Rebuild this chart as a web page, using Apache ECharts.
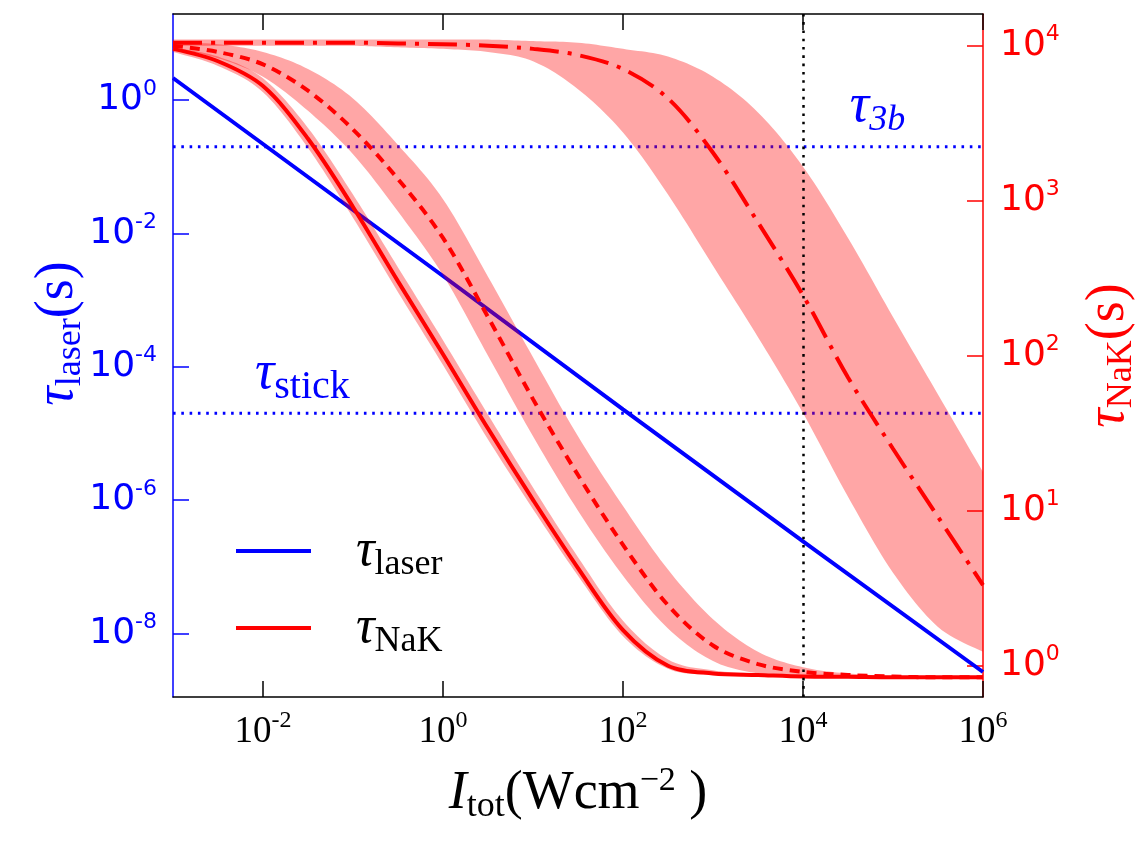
<!DOCTYPE html>
<html>
<head>
<meta charset="utf-8">
<script src="https://cdn.jsdelivr.net/npm/echarts@6.0.0/dist/echarts.min.js"></script>
<style>
html, body { margin: 0; padding: 0; background: #fff; }
#chart { width: 1145px; height: 841px; }
</style>
</head>
<body>
<div id="chart"></div>
<script>
// every value below is a log10
// x: log10 of I_tot (W cm^-2)
var logI = [-3, -2.5, -2, -1.5, -1, -0.5, 0, 0.5, 1, 1.5, 2, 2.5, 3, 3.5, 4, 4.5, 5, 5.5, 6];

// left axis: tau_laser (s)
var laserI   = [-3, 0, 2, 4, 6];
var laserTau = [0.33, -2.64, -4.64, -6.62, -8.58];
var tau3b    = -0.70;
var tauStick = -4.70;
var iMark    = 4;

// right axis: tau_NaK (s), three curves and their shaded ranges
var nakSolid   = [3.98, 3.90, 3.74, 3.40, 2.96, 2.48, 2.01, 1.53, 1.07, 0.63, 0.23, 0.00, -0.05, -0.06, -0.07, -0.072, -0.075, -0.075, -0.075];
var solidLo    = [3.96, 3.87, 3.70, 3.34, 2.89, 2.41, 1.94, 1.46, 1.01, 0.58, 0.19, -0.02, -0.06, -0.07, -0.075, -0.078, -0.08, -0.08, -0.08];
var solidHi    = [3.99, 3.93, 3.79, 3.47, 3.04, 2.57, 2.10, 1.62, 1.15, 0.70, 0.29, 0.04, -0.03, -0.05, -0.06, -0.065, -0.07, -0.07, -0.07];

var nakDashed  = [4.00, 3.96, 3.88, 3.71, 3.46, 3.14, 2.76, 2.25, 1.72, 1.23, 0.78, 0.39, 0.13, 0.01, -0.04, -0.06, -0.07, -0.075, -0.075];
var dashedLo   = [3.98, 3.92, 3.80, 3.58, 3.30, 2.93, 2.52, 2.00, 1.48, 1.00, 0.58, 0.24, 0.03, -0.05, -0.07, -0.075, -0.08, -0.08, -0.08];
var dashedHi   = [4.02, 4.01, 3.96, 3.85, 3.66, 3.36, 3.01, 2.51, 1.99, 1.48, 1.03, 0.62, 0.30, 0.09, -0.01, -0.05, -0.065, -0.07, -0.075];

var nakDashDot = [4.02, 4.02, 4.02, 4.02, 4.02, 4.015, 4.01, 4.00, 3.98, 3.94, 3.85, 3.66, 3.31, 2.86, 2.39, 1.86, 1.40, 0.96, 0.52];
var dashDotLo  = [4.00, 4.00, 4.00, 4.00, 4.00, 3.99, 3.98, 3.96, 3.90, 3.72, 3.44, 3.04, 2.58, 2.12, 1.63, 1.09, 0.60, 0.25, 0.09];
var dashDotHi  = [4.04, 4.04, 4.04, 4.04, 4.04, 4.04, 4.04, 4.04, 4.03, 4.02, 3.98, 3.93, 3.80, 3.57, 3.22, 2.76, 2.25, 1.75, 1.25];

// tick positions (exponents)
var xTicks = [-2, 0, 2, 4, 6];
var yLeftTicks = [-8, -6, -4, -2, 0];
var yRightTicks = [0, 1, 2, 3, 4];

var BLUE = '#0000ff', RED = '#ff0000', BAND = 'rgba(255,0,0,0.35)';
var SERIF = '"Liberation Serif", "DejaVu Serif", serif';

function pairs(xs, ys) {
    return xs.map(function (x, i) { return [x, ys[i]]; });
}

// smooth outline through pixel points (catmull-rom, drawing only)
function splinePts(pts) {
    var out = [], n = pts.length;
    for (var i = 0; i < n - 1; i++) {
        var p0 = pts[Math.max(i - 1, 0)], p1 = pts[i], p2 = pts[i + 1], p3 = pts[Math.min(i + 2, n - 1)];
        for (var k = 0; k < 12; k++) {
            var t = k / 12, t2 = t * t, t3 = t2 * t, q = [];
            for (var d = 0; d < 2; d++) {
                q[d] = 0.5 * (2 * p1[d] + (p2[d] - p0[d]) * t
                    + (2 * p0[d] - 5 * p1[d] + 4 * p2[d] - p3[d]) * t2
                    + (3 * p1[d] - p0[d] - 3 * p2[d] + p3[d]) * t3);
            }
            out.push(q);
        }
    }
    out.push(pts[n - 1]);
    return out;
}

function band(lo, hi) {
    return {
        type: 'custom', yAxisIndex: 1, z: 3, silent: true, clip: true,
        data: logI.map(function (x, i) { return [x, lo[i], hi[i]]; }),
        encode: { x: 0, y: [1, 2] },
        renderItem: function (params, api) {
            if (params.dataIndex !== 0) return null;
            var top = logI.map(function (x, i) { return api.coord([x, hi[i]]); });
            var bot = logI.map(function (x, i) { return api.coord([x, lo[i]]); }).reverse();
            var pts = splinePts(top).concat(splinePts(bot));
            return { type: 'polygon', shape: { points: pts }, style: { fill: BAND } };
        }
    };
}

function powLabel(color, size, font, supSize, lift) {
    return {
        formatter: function (v) { return '{b|10}{e|' + Math.round(v) + '}'; },
        rich: {
            b: { fontFamily: font, fontSize: size, color: color },
            e: { fontFamily: font, fontSize: supSize, color: color, padding: [0, 0, lift, 0] }
        }
    };
}

function mathRich(color, lead) {
    return {
        t: { fontFamily: SERIF, fontStyle: 'italic', fontSize: 54, color: color, padding: [0, 0, 0, lead || 0] },
        s: { fontFamily: SERIF, fontStyle: 'normal', fontSize: 36, color: color, padding: [26, 0, 0, 0] },
        rm: { fontFamily: SERIF, fontStyle: 'normal', fontWeight: 'normal', fontSize: 54, color: color },
        e: { fontFamily: SERIF, fontStyle: 'normal', fontSize: 34, color: color, padding: [0, 0, 26, 0] }
    };
}

var chart = echarts.init(document.getElementById('chart'));

var legendRich = {
    t: { fontFamily: SERIF, fontStyle: 'italic', fontSize: 52, color: '#000' },
    s: { fontFamily: SERIF, fontSize: 36, color: '#000', padding: [28, 0, 0, 0] }
};
function legendFmt(name) {
    return name === 'τ_laser' ? '{t|τ}{s|laser}' : '{t|τ}{s|NaK}';
}
function legendAt(name, top) {
    return {
        data: [name], left: 231, top: top, orient: 'vertical',
        icon: 'rect', itemWidth: 75, itemHeight: 4, formatter: legendFmt,
        selectedMode: false,
        textStyle: { fontFamily: SERIF, padding: [0, 0, 0, 40], rich: legendRich }
    };
}

var series = [
    {
        name: 'τ_laser', type: 'line', yAxisIndex: 0, z: 1,
        data: pairs(laserI, laserTau), symbol: 'none',
        lineStyle: { color: BLUE, width: 4 }, itemStyle: { color: BLUE }
    },
    {
        name: 'tau3b', type: 'line', yAxisIndex: 0, z: 1, symbol: 'none', silent: true,
        data: [[-3, tau3b], [6, tau3b]],
        lineStyle: { color: BLUE, width: 3, type: [2.6, 5.7] }
    },
    {
        name: 'tauStick', type: 'line', yAxisIndex: 0, z: 1, symbol: 'none', silent: true,
        data: [[-3, tauStick], [6, tauStick]],
        lineStyle: { color: BLUE, width: 3, type: [2.6, 5.7] }
    },
    band(solidLo, solidHi),
    band(dashedLo, dashedHi),
    band(dashDotLo, dashDotHi),
    {
        name: 'τ_NaK', type: 'line', yAxisIndex: 1, z: 4, smooth: 0.33,
        data: pairs(logI, nakSolid), symbol: 'none',
        lineStyle: { color: RED, width: 4 }, itemStyle: { color: RED }
    },
    {
        name: 'nakDashed', type: 'line', yAxisIndex: 1, z: 4, smooth: 0.33,
        data: pairs(logI, nakDashed), symbol: 'none',
        lineStyle: { color: RED, width: 4, type: [10, 7] }
    },
    {
        name: 'nakDashDot', type: 'line', yAxisIndex: 1, z: 4, smooth: 0.33,
        data: pairs(logI, nakDashDot), symbol: 'none',
        lineStyle: { color: RED, width: 4, type: [29, 9, 4, 9] },
        markLine: {
            silent: true, symbol: 'none', label: { show: false },
            lineStyle: { color: '#000', width: 2.5, type: [2.6, 5.7] },
            data: [{ xAxis: iMark }]
        }
    }
];

var option = {
    animation: false,
    backgroundColor: '#fff',
    grid: { left: 173, right: 162, top: 14, bottom: 144, containLabel: false, outerBoundsMode: 'none' },
    xAxis: [
        {
            type: 'value', min: -3, max: 6, position: 'bottom',
            splitLine: { show: false },
            axisLine: { onZero: false, lineStyle: { color: '#000', width: 1.5 } },
            axisTick: { inside: true, length: 16, customValues: xTicks, lineStyle: { color: '#000', width: 1.5 } },
            axisLabel: Object.assign({ customValues: xTicks, margin: 12 }, powLabel('#000', 37, SERIF, 24, 22)),
            name: '{t|I}{s|tot}{rm|(Wcm}{e|−2}{rm| )}',
            nameLocation: 'middle', nameGap: 66, nameMoveOverlap: false,
            nameTextStyle: { fontFamily: SERIF, rich: mathRich('#000') }
        },
        {
            type: 'value', min: -3, max: 6, position: 'top',
            splitLine: { show: false },
            axisLine: { onZero: false, lineStyle: { color: '#000', width: 1.5 } },
            axisTick: { inside: true, length: 16, customValues: xTicks, lineStyle: { color: '#000', width: 1.5 } },
            axisLabel: { show: false }
        }
    ],
    yAxis: [
        {
            type: 'value', min: -8.955, max: 1.29, position: 'left',
            splitLine: { show: false },
            axisLine: { onZero: false, lineStyle: { color: BLUE, width: 1.5 } },
            axisTick: { inside: true, length: 16, customValues: yLeftTicks, lineStyle: { color: BLUE, width: 1.5 } },
            axisLabel: Object.assign({ customValues: yLeftTicks, margin: 16 }, powLabel(BLUE, 36, 'DejaVu Sans', 22, 22)),
            name: '{t|τ}{s|laser}{rm|(s)}',
            nameLocation: 'middle', nameRotate: 90, nameGap: 84, nameMoveOverlap: false,
            nameTextStyle: { fontFamily: SERIF, rich: mathRich(BLUE, 44) }
        },
        {
            type: 'value', min: -0.202, max: 4.205, position: 'right',
            splitLine: { show: false },
            axisLine: { onZero: false, lineStyle: { color: RED, width: 1.5 } },
            axisTick: { inside: true, length: 16, customValues: yRightTicks, lineStyle: { color: RED, width: 1.5 } },
            axisLabel: Object.assign({ customValues: yRightTicks, margin: 17 }, powLabel(RED, 36, 'DejaVu Sans', 22, 22)),
            name: '{t|τ}{s|NaK}{rm|(s)}',
            nameLocation: 'middle', nameRotate: 90, nameGap: 95, nameMoveOverlap: false,
            nameTextStyle: { fontFamily: SERIF, rich: mathRich(RED) }
        }
    ],
    legend: [legendAt('τ_laser', 520), legendAt('τ_NaK', 597)],
    series: series
};

chart.setOption(option);

// the two threshold labels, anchored on their dotted lines
var p3b = chart.convertToPixel({ xAxisIndex: 0, yAxisIndex: 0 }, [4.52, tau3b]);
var pSt = chart.convertToPixel({ xAxisIndex: 0, yAxisIndex: 0 }, [-2.09, tauStick]);
var annRich = {
    t: { fontFamily: SERIF, fontStyle: 'italic', fontSize: 54, fill: BLUE },
    si: { fontFamily: SERIF, fontStyle: 'italic', fontSize: 36, fill: BLUE, padding: [28, 0, 0, 0] },
    s: { fontFamily: SERIF, fontSize: 40, fill: BLUE, padding: [28, 0, 0, 0] }
};
chart.setOption({
    graphic: [
        { type: 'text', x: p3b[0], y: p3b[1] - 8, z: 10,
          style: { text: '{t|τ}{si|3b}', rich: annRich, verticalAlign: 'bottom' } },
        { type: 'text', x: pSt[0], y: pSt[1] - 6, z: 10,
          style: { text: '{t|τ}{s|stick}', rich: annRich, verticalAlign: 'bottom' } }
    ]
});
</script>
</body>
</html>
